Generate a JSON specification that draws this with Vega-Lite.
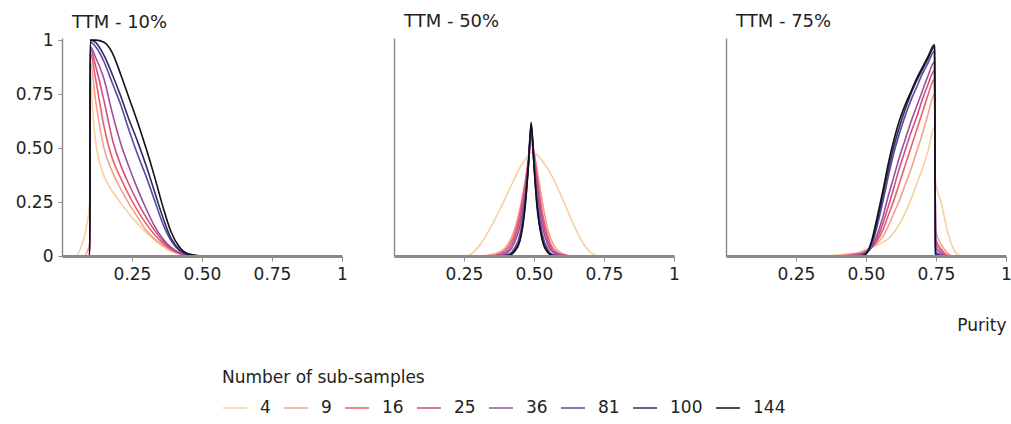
{
"$schema": "https://vega.github.io/schema/vega-lite/v6.json",
"background": "white",
"padding": {"left": 15, "top": 13, "right": 0, "bottom": 0},
"spacing": 45,
"config": {
 "font": "DejaVu Sans",
 "view": {"stroke": null},
 "axis": {"grid": false, "domainColor": "#8c8c8c", "domainWidth": 1.5, "tickColor": "#8c8c8c", "tickSize": 4, "labelFontSize": 17, "labelColor": "#222", "labelFont": "DejaVu Sans", "titleFont": "DejaVu Sans", "titleFontSize": 17, "titleFontWeight": "normal", "titleColor": "#222", "labelPadding": 5, "labelFlush": false},
 "axisX": {"domainWidth": 3, "domainColor": "#8a8a8a", "tickSize": 5},
 "title": {"font": "DejaVu Sans", "fontSize": 18, "fontWeight": "normal", "anchor": "start", "frame": "group", "color": "#222", "offset": 7},
 "legend": {"titleFont": "DejaVu Sans", "labelFont": "DejaVu Sans", "titleFontSize": 17, "titleFontWeight": "normal", "labelFontSize": 17, "titleColor": "#222", "labelColor": "#222", "titleLimit": 600, "symbolType": "stroke", "symbolStrokeWidth": 1.5, "symbolSize": 576, "columnPadding": 10, "titlePadding": 8, "labelOffset": 12}
},
"data": {"values": [
{"p":10,"n":4,"x":0.01,"y":0},{"p":10,"n":4,"x":0.05,"y":0},{"p":10,"n":4,"x":0.07,"y":0.05},{"p":10,"n":4,"x":0.085,"y":0.12},{"p":10,"n":4,"x":0.099,"y":0.25},{"p":10,"n":4,"x":0.101,"y":0.86},{"p":10,"n":4,"x":0.11,"y":0.66},{"p":10,"n":4,"x":0.12,"y":0.53},{"p":10,"n":4,"x":0.135,"y":0.43},{"p":10,"n":4,"x":0.15,"y":0.37},{"p":10,"n":4,"x":0.18,"y":0.3},{"p":10,"n":4,"x":0.21,"y":0.245},{"p":10,"n":4,"x":0.24,"y":0.195},{"p":10,"n":4,"x":0.27,"y":0.15},{"p":10,"n":4,"x":0.3,"y":0.11},{"p":10,"n":4,"x":0.33,"y":0.075},{"p":10,"n":4,"x":0.36,"y":0.045},{"p":10,"n":4,"x":0.39,"y":0.022},{"p":10,"n":4,"x":0.42,"y":0.009},{"p":10,"n":4,"x":0.45,"y":0.002},{"p":10,"n":4,"x":0.5,"y":0},{"p":10,"n":4,"x":1,"y":0},
{"p":10,"n":9,"x":0.01,"y":0},{"p":10,"n":9,"x":0.08,"y":0},{"p":10,"n":9,"x":0.09,"y":0.02},{"p":10,"n":9,"x":0.099,"y":0.06},{"p":10,"n":9,"x":0.101,"y":0.9},{"p":10,"n":9,"x":0.12,"y":0.72},{"p":10,"n":9,"x":0.15,"y":0.5},{"p":10,"n":9,"x":0.18,"y":0.39},{"p":10,"n":9,"x":0.21,"y":0.31},{"p":10,"n":9,"x":0.24,"y":0.24},{"p":10,"n":9,"x":0.27,"y":0.18},{"p":10,"n":9,"x":0.3,"y":0.12},{"p":10,"n":9,"x":0.33,"y":0.08},{"p":10,"n":9,"x":0.36,"y":0.05},{"p":10,"n":9,"x":0.39,"y":0.025},{"p":10,"n":9,"x":0.42,"y":0.01},{"p":10,"n":9,"x":0.45,"y":0.003},{"p":10,"n":9,"x":0.5,"y":0},{"p":10,"n":9,"x":1,"y":0},
{"p":10,"n":16,"x":0.01,"y":0},{"p":10,"n":16,"x":0.099,"y":0},{"p":10,"n":16,"x":0.101,"y":0.94},{"p":10,"n":16,"x":0.12,"y":0.82},{"p":10,"n":16,"x":0.15,"y":0.6},{"p":10,"n":16,"x":0.18,"y":0.45},{"p":10,"n":16,"x":0.21,"y":0.36},{"p":10,"n":16,"x":0.24,"y":0.28},{"p":10,"n":16,"x":0.27,"y":0.21},{"p":10,"n":16,"x":0.3,"y":0.15},{"p":10,"n":16,"x":0.33,"y":0.1},{"p":10,"n":16,"x":0.36,"y":0.06},{"p":10,"n":16,"x":0.39,"y":0.03},{"p":10,"n":16,"x":0.42,"y":0.012},{"p":10,"n":16,"x":0.45,"y":0.004},{"p":10,"n":16,"x":0.5,"y":0},{"p":10,"n":16,"x":1,"y":0},
{"p":10,"n":25,"x":0.01,"y":0},{"p":10,"n":25,"x":0.099,"y":0},{"p":10,"n":25,"x":0.101,"y":0.96},{"p":10,"n":25,"x":0.12,"y":0.88},{"p":10,"n":25,"x":0.15,"y":0.72},{"p":10,"n":25,"x":0.18,"y":0.54},{"p":10,"n":25,"x":0.21,"y":0.42},{"p":10,"n":25,"x":0.24,"y":0.33},{"p":10,"n":25,"x":0.27,"y":0.25},{"p":10,"n":25,"x":0.3,"y":0.18},{"p":10,"n":25,"x":0.33,"y":0.12},{"p":10,"n":25,"x":0.36,"y":0.07},{"p":10,"n":25,"x":0.39,"y":0.035},{"p":10,"n":25,"x":0.42,"y":0.013},{"p":10,"n":25,"x":0.45,"y":0.004},{"p":10,"n":25,"x":0.5,"y":0},{"p":10,"n":25,"x":1,"y":0},
{"p":10,"n":36,"x":0.01,"y":0},{"p":10,"n":36,"x":0.099,"y":0},{"p":10,"n":36,"x":0.101,"y":0.97},{"p":10,"n":36,"x":0.12,"y":0.92},{"p":10,"n":36,"x":0.15,"y":0.82},{"p":10,"n":36,"x":0.18,"y":0.66},{"p":10,"n":36,"x":0.21,"y":0.52},{"p":10,"n":36,"x":0.24,"y":0.41},{"p":10,"n":36,"x":0.27,"y":0.31},{"p":10,"n":36,"x":0.3,"y":0.22},{"p":10,"n":36,"x":0.33,"y":0.14},{"p":10,"n":36,"x":0.36,"y":0.08},{"p":10,"n":36,"x":0.39,"y":0.04},{"p":10,"n":36,"x":0.42,"y":0.015},{"p":10,"n":36,"x":0.45,"y":0.004},{"p":10,"n":36,"x":0.5,"y":0},{"p":10,"n":36,"x":1,"y":0},
{"p":10,"n":81,"x":0.01,"y":0},{"p":10,"n":81,"x":0.099,"y":0},{"p":10,"n":81,"x":0.101,"y":0.99},{"p":10,"n":81,"x":0.12,"y":0.97},{"p":10,"n":81,"x":0.15,"y":0.9},{"p":10,"n":81,"x":0.18,"y":0.8},{"p":10,"n":81,"x":0.21,"y":0.7},{"p":10,"n":81,"x":0.24,"y":0.58},{"p":10,"n":81,"x":0.27,"y":0.47},{"p":10,"n":81,"x":0.3,"y":0.37},{"p":10,"n":81,"x":0.33,"y":0.26},{"p":10,"n":81,"x":0.36,"y":0.15},{"p":10,"n":81,"x":0.39,"y":0.07},{"p":10,"n":81,"x":0.42,"y":0.025},{"p":10,"n":81,"x":0.45,"y":0.006},{"p":10,"n":81,"x":0.5,"y":0},{"p":10,"n":81,"x":1,"y":0},
{"p":10,"n":100,"x":0.01,"y":0},{"p":10,"n":100,"x":0.099,"y":0},{"p":10,"n":100,"x":0.101,"y":1},{"p":10,"n":100,"x":0.12,"y":0.99},{"p":10,"n":100,"x":0.15,"y":0.93},{"p":10,"n":100,"x":0.18,"y":0.84},{"p":10,"n":100,"x":0.21,"y":0.74},{"p":10,"n":100,"x":0.24,"y":0.63},{"p":10,"n":100,"x":0.27,"y":0.53},{"p":10,"n":100,"x":0.3,"y":0.42},{"p":10,"n":100,"x":0.33,"y":0.3},{"p":10,"n":100,"x":0.36,"y":0.18},{"p":10,"n":100,"x":0.39,"y":0.08},{"p":10,"n":100,"x":0.42,"y":0.028},{"p":10,"n":100,"x":0.45,"y":0.007},{"p":10,"n":100,"x":0.5,"y":0},{"p":10,"n":100,"x":1,"y":0},
{"p":10,"n":144,"x":0.01,"y":0},{"p":10,"n":144,"x":0.099,"y":0},{"p":10,"n":144,"x":0.101,"y":1},{"p":10,"n":144,"x":0.12,"y":1},{"p":10,"n":144,"x":0.15,"y":0.99},{"p":10,"n":144,"x":0.18,"y":0.94},{"p":10,"n":144,"x":0.21,"y":0.84},{"p":10,"n":144,"x":0.24,"y":0.73},{"p":10,"n":144,"x":0.27,"y":0.62},{"p":10,"n":144,"x":0.3,"y":0.5},{"p":10,"n":144,"x":0.33,"y":0.37},{"p":10,"n":144,"x":0.36,"y":0.23},{"p":10,"n":144,"x":0.39,"y":0.11},{"p":10,"n":144,"x":0.42,"y":0.04},{"p":10,"n":144,"x":0.45,"y":0.01},{"p":10,"n":144,"x":0.5,"y":0},{"p":10,"n":144,"x":1,"y":0},

{"p":50,"n":4,"x":0.01,"y":0},{"p":50,"n":4,"x":0.26,"y":0},{"p":50,"n":4,"x":0.3,"y":0.04},{"p":50,"n":4,"x":0.34,"y":0.12},{"p":50,"n":4,"x":0.38,"y":0.22},{"p":50,"n":4,"x":0.42,"y":0.33},{"p":50,"n":4,"x":0.45,"y":0.41},{"p":50,"n":4,"x":0.47,"y":0.45},{"p":50,"n":4,"x":0.49,"y":0.48},{"p":50,"n":4,"x":0.51,"y":0.47},{"p":50,"n":4,"x":0.53,"y":0.44},{"p":50,"n":4,"x":0.56,"y":0.38},{"p":50,"n":4,"x":0.6,"y":0.27},{"p":50,"n":4,"x":0.64,"y":0.15},{"p":50,"n":4,"x":0.68,"y":0.05},{"p":50,"n":4,"x":0.71,"y":0.01},{"p":50,"n":4,"x":0.73,"y":0},{"p":50,"n":4,"x":1,"y":0},
{"p":50,"n":9,"x":0.01,"y":0},{"p":50,"n":9,"x":0.3,"y":0},{"p":50,"n":9,"x":0.34,"y":0.005},{"p":50,"n":9,"x":0.38,"y":0.02},{"p":50,"n":9,"x":0.41,"y":0.06},{"p":50,"n":9,"x":0.43,"y":0.12},{"p":50,"n":9,"x":0.45,"y":0.22},{"p":50,"n":9,"x":0.47,"y":0.36},{"p":50,"n":9,"x":0.48,"y":0.44},{"p":50,"n":9,"x":0.49,"y":0.52},{"p":50,"n":9,"x":0.5,"y":0.48},{"p":50,"n":9,"x":0.51,"y":0.41},{"p":50,"n":9,"x":0.53,"y":0.25},{"p":50,"n":9,"x":0.55,"y":0.12},{"p":50,"n":9,"x":0.57,"y":0.05},{"p":50,"n":9,"x":0.6,"y":0.012},{"p":50,"n":9,"x":0.64,"y":0},{"p":50,"n":9,"x":1,"y":0},
{"p":50,"n":16,"x":0.01,"y":0},{"p":50,"n":16,"x":0.34,"y":0},{"p":50,"n":16,"x":0.38,"y":0.012},{"p":50,"n":16,"x":0.41,"y":0.045},{"p":50,"n":16,"x":0.43,"y":0.1},{"p":50,"n":16,"x":0.45,"y":0.2},{"p":50,"n":16,"x":0.47,"y":0.35},{"p":50,"n":16,"x":0.48,"y":0.45},{"p":50,"n":16,"x":0.49,"y":0.55},{"p":50,"n":16,"x":0.5,"y":0.48},{"p":50,"n":16,"x":0.51,"y":0.38},{"p":50,"n":16,"x":0.53,"y":0.2},{"p":50,"n":16,"x":0.55,"y":0.09},{"p":50,"n":16,"x":0.57,"y":0.03},{"p":50,"n":16,"x":0.6,"y":0.006},{"p":50,"n":16,"x":0.64,"y":0},{"p":50,"n":16,"x":1,"y":0},
{"p":50,"n":25,"x":0.01,"y":0},{"p":50,"n":25,"x":0.34,"y":0},{"p":50,"n":25,"x":0.38,"y":0.006},{"p":50,"n":25,"x":0.41,"y":0.03},{"p":50,"n":25,"x":0.43,"y":0.08},{"p":50,"n":25,"x":0.45,"y":0.17},{"p":50,"n":25,"x":0.47,"y":0.32},{"p":50,"n":25,"x":0.48,"y":0.44},{"p":50,"n":25,"x":0.49,"y":0.56},{"p":50,"n":25,"x":0.5,"y":0.46},{"p":50,"n":25,"x":0.51,"y":0.35},{"p":50,"n":25,"x":0.53,"y":0.17},{"p":50,"n":25,"x":0.55,"y":0.07},{"p":50,"n":25,"x":0.57,"y":0.02},{"p":50,"n":25,"x":0.6,"y":0.004},{"p":50,"n":25,"x":0.64,"y":0},{"p":50,"n":25,"x":1,"y":0},
{"p":50,"n":36,"x":0.01,"y":0},{"p":50,"n":36,"x":0.34,"y":0},{"p":50,"n":36,"x":0.38,"y":0.003},{"p":50,"n":36,"x":0.41,"y":0.02},{"p":50,"n":36,"x":0.43,"y":0.06},{"p":50,"n":36,"x":0.45,"y":0.14},{"p":50,"n":36,"x":0.47,"y":0.3},{"p":50,"n":36,"x":0.48,"y":0.43},{"p":50,"n":36,"x":0.49,"y":0.58},{"p":50,"n":36,"x":0.5,"y":0.45},{"p":50,"n":36,"x":0.51,"y":0.32},{"p":50,"n":36,"x":0.53,"y":0.14},{"p":50,"n":36,"x":0.55,"y":0.05},{"p":50,"n":36,"x":0.57,"y":0.015},{"p":50,"n":36,"x":0.6,"y":0.002},{"p":50,"n":36,"x":0.64,"y":0},{"p":50,"n":36,"x":1,"y":0},
{"p":50,"n":81,"x":0.01,"y":0},{"p":50,"n":81,"x":0.38,"y":0},{"p":50,"n":81,"x":0.41,"y":0.008},{"p":50,"n":81,"x":0.43,"y":0.035},{"p":50,"n":81,"x":0.45,"y":0.1},{"p":50,"n":81,"x":0.47,"y":0.28},{"p":50,"n":81,"x":0.48,"y":0.42},{"p":50,"n":81,"x":0.49,"y":0.6},{"p":50,"n":81,"x":0.5,"y":0.43},{"p":50,"n":81,"x":0.51,"y":0.28},{"p":50,"n":81,"x":0.53,"y":0.1},{"p":50,"n":81,"x":0.55,"y":0.03},{"p":50,"n":81,"x":0.57,"y":0.005},{"p":50,"n":81,"x":0.6,"y":0},{"p":50,"n":81,"x":1,"y":0},
{"p":50,"n":100,"x":0.01,"y":0},{"p":50,"n":100,"x":0.38,"y":0},{"p":50,"n":100,"x":0.41,"y":0.005},{"p":50,"n":100,"x":0.43,"y":0.025},{"p":50,"n":100,"x":0.45,"y":0.08},{"p":50,"n":100,"x":0.47,"y":0.26},{"p":50,"n":100,"x":0.48,"y":0.42},{"p":50,"n":100,"x":0.49,"y":0.61},{"p":50,"n":100,"x":0.5,"y":0.42},{"p":50,"n":100,"x":0.51,"y":0.25},{"p":50,"n":100,"x":0.53,"y":0.08},{"p":50,"n":100,"x":0.55,"y":0.02},{"p":50,"n":100,"x":0.57,"y":0.003},{"p":50,"n":100,"x":0.6,"y":0},{"p":50,"n":100,"x":1,"y":0},
{"p":50,"n":144,"x":0.01,"y":0},{"p":50,"n":144,"x":0.38,"y":0},{"p":50,"n":144,"x":0.41,"y":0.003},{"p":50,"n":144,"x":0.43,"y":0.02},{"p":50,"n":144,"x":0.45,"y":0.07},{"p":50,"n":144,"x":0.47,"y":0.25},{"p":50,"n":144,"x":0.48,"y":0.42},{"p":50,"n":144,"x":0.49,"y":0.62},{"p":50,"n":144,"x":0.5,"y":0.42},{"p":50,"n":144,"x":0.51,"y":0.24},{"p":50,"n":144,"x":0.53,"y":0.07},{"p":50,"n":144,"x":0.55,"y":0.015},{"p":50,"n":144,"x":0.57,"y":0},{"p":50,"n":144,"x":1,"y":0},

{"p":75,"n":4,"x":0.01,"y":0},{"p":75,"n":4,"x":0.35,"y":0},{"p":75,"n":4,"x":0.4,"y":0.005},{"p":75,"n":4,"x":0.45,"y":0.012},{"p":75,"n":4,"x":0.48,"y":0.02},{"p":75,"n":4,"x":0.5,"y":0.03},{"p":75,"n":4,"x":0.52,"y":0.04},{"p":75,"n":4,"x":0.54,"y":0.05},{"p":75,"n":4,"x":0.56,"y":0.065},{"p":75,"n":4,"x":0.58,"y":0.08},{"p":75,"n":4,"x":0.6,"y":0.11},{"p":75,"n":4,"x":0.62,"y":0.15},{"p":75,"n":4,"x":0.64,"y":0.2},{"p":75,"n":4,"x":0.66,"y":0.26},{"p":75,"n":4,"x":0.68,"y":0.33},{"p":75,"n":4,"x":0.7,"y":0.4},{"p":75,"n":4,"x":0.72,"y":0.48},{"p":75,"n":4,"x":0.745,"y":0.6},{"p":75,"n":4,"x":0.748,"y":0.35},{"p":75,"n":4,"x":0.77,"y":0.24},{"p":75,"n":4,"x":0.79,"y":0.12},{"p":75,"n":4,"x":0.81,"y":0.04},{"p":75,"n":4,"x":0.83,"y":0.005},{"p":75,"n":4,"x":0.85,"y":0},{"p":75,"n":4,"x":1,"y":0},
{"p":75,"n":9,"x":0.01,"y":0},{"p":75,"n":9,"x":0.38,"y":0},{"p":75,"n":9,"x":0.42,"y":0.004},{"p":75,"n":9,"x":0.45,"y":0.008},{"p":75,"n":9,"x":0.48,"y":0.015},{"p":75,"n":9,"x":0.5,"y":0.025},{"p":75,"n":9,"x":0.52,"y":0.04},{"p":75,"n":9,"x":0.54,"y":0.06},{"p":75,"n":9,"x":0.56,"y":0.09},{"p":75,"n":9,"x":0.58,"y":0.14},{"p":75,"n":9,"x":0.6,"y":0.2},{"p":75,"n":9,"x":0.62,"y":0.26},{"p":75,"n":9,"x":0.64,"y":0.33},{"p":75,"n":9,"x":0.66,"y":0.4},{"p":75,"n":9,"x":0.68,"y":0.48},{"p":75,"n":9,"x":0.7,"y":0.56},{"p":75,"n":9,"x":0.72,"y":0.65},{"p":75,"n":9,"x":0.745,"y":0.75},{"p":75,"n":9,"x":0.748,"y":0.12},{"p":75,"n":9,"x":0.77,"y":0.05},{"p":75,"n":9,"x":0.79,"y":0.015},{"p":75,"n":9,"x":0.81,"y":0},{"p":75,"n":9,"x":1,"y":0},
{"p":75,"n":16,"x":0.01,"y":0},{"p":75,"n":16,"x":0.42,"y":0},{"p":75,"n":16,"x":0.45,"y":0.005},{"p":75,"n":16,"x":0.48,"y":0.012},{"p":75,"n":16,"x":0.5,"y":0.022},{"p":75,"n":16,"x":0.52,"y":0.04},{"p":75,"n":16,"x":0.54,"y":0.07},{"p":75,"n":16,"x":0.56,"y":0.12},{"p":75,"n":16,"x":0.58,"y":0.19},{"p":75,"n":16,"x":0.6,"y":0.26},{"p":75,"n":16,"x":0.62,"y":0.34},{"p":75,"n":16,"x":0.64,"y":0.42},{"p":75,"n":16,"x":0.66,"y":0.5},{"p":75,"n":16,"x":0.68,"y":0.58},{"p":75,"n":16,"x":0.7,"y":0.66},{"p":75,"n":16,"x":0.72,"y":0.74},{"p":75,"n":16,"x":0.745,"y":0.82},{"p":75,"n":16,"x":0.748,"y":0.08},{"p":75,"n":16,"x":0.77,"y":0.03},{"p":75,"n":16,"x":0.79,"y":0.005},{"p":75,"n":16,"x":0.81,"y":0},{"p":75,"n":16,"x":1,"y":0},
{"p":75,"n":25,"x":0.01,"y":0},{"p":75,"n":25,"x":0.42,"y":0},{"p":75,"n":25,"x":0.45,"y":0.004},{"p":75,"n":25,"x":0.48,"y":0.01},{"p":75,"n":25,"x":0.5,"y":0.02},{"p":75,"n":25,"x":0.52,"y":0.04},{"p":75,"n":25,"x":0.54,"y":0.08},{"p":75,"n":25,"x":0.56,"y":0.15},{"p":75,"n":25,"x":0.58,"y":0.23},{"p":75,"n":25,"x":0.6,"y":0.32},{"p":75,"n":25,"x":0.62,"y":0.41},{"p":75,"n":25,"x":0.64,"y":0.49},{"p":75,"n":25,"x":0.66,"y":0.57},{"p":75,"n":25,"x":0.68,"y":0.64},{"p":75,"n":25,"x":0.7,"y":0.72},{"p":75,"n":25,"x":0.72,"y":0.79},{"p":75,"n":25,"x":0.745,"y":0.86},{"p":75,"n":25,"x":0.748,"y":0.06},{"p":75,"n":25,"x":0.77,"y":0.02},{"p":75,"n":25,"x":0.79,"y":0},{"p":75,"n":25,"x":1,"y":0},
{"p":75,"n":36,"x":0.01,"y":0},{"p":75,"n":36,"x":0.42,"y":0},{"p":75,"n":36,"x":0.45,"y":0.002},{"p":75,"n":36,"x":0.48,"y":0.006},{"p":75,"n":36,"x":0.5,"y":0.015},{"p":75,"n":36,"x":0.52,"y":0.04},{"p":75,"n":36,"x":0.54,"y":0.1},{"p":75,"n":36,"x":0.56,"y":0.18},{"p":75,"n":36,"x":0.58,"y":0.28},{"p":75,"n":36,"x":0.6,"y":0.37},{"p":75,"n":36,"x":0.62,"y":0.46},{"p":75,"n":36,"x":0.64,"y":0.54},{"p":75,"n":36,"x":0.66,"y":0.62},{"p":75,"n":36,"x":0.68,"y":0.69},{"p":75,"n":36,"x":0.7,"y":0.76},{"p":75,"n":36,"x":0.72,"y":0.83},{"p":75,"n":36,"x":0.745,"y":0.9},{"p":75,"n":36,"x":0.748,"y":0.04},{"p":75,"n":36,"x":0.77,"y":0.01},{"p":75,"n":36,"x":0.79,"y":0},{"p":75,"n":36,"x":1,"y":0},
{"p":75,"n":81,"x":0.01,"y":0},{"p":75,"n":81,"x":0.46,"y":0},{"p":75,"n":81,"x":0.48,"y":0.002},{"p":75,"n":81,"x":0.5,"y":0.012},{"p":75,"n":81,"x":0.52,"y":0.05},{"p":75,"n":81,"x":0.54,"y":0.14},{"p":75,"n":81,"x":0.56,"y":0.25},{"p":75,"n":81,"x":0.58,"y":0.37},{"p":75,"n":81,"x":0.6,"y":0.48},{"p":75,"n":81,"x":0.62,"y":0.57},{"p":75,"n":81,"x":0.64,"y":0.65},{"p":75,"n":81,"x":0.66,"y":0.72},{"p":75,"n":81,"x":0.68,"y":0.78},{"p":75,"n":81,"x":0.7,"y":0.84},{"p":75,"n":81,"x":0.72,"y":0.89},{"p":75,"n":81,"x":0.745,"y":0.95},{"p":75,"n":81,"x":0.748,"y":0.02},{"p":75,"n":81,"x":0.77,"y":0.003},{"p":75,"n":81,"x":0.79,"y":0},{"p":75,"n":81,"x":1,"y":0},
{"p":75,"n":100,"x":0.01,"y":0},{"p":75,"n":100,"x":0.48,"y":0},{"p":75,"n":100,"x":0.5,"y":0.01},{"p":75,"n":100,"x":0.52,"y":0.06},{"p":75,"n":100,"x":0.54,"y":0.16},{"p":75,"n":100,"x":0.56,"y":0.28},{"p":75,"n":100,"x":0.58,"y":0.4},{"p":75,"n":100,"x":0.6,"y":0.51},{"p":75,"n":100,"x":0.62,"y":0.6},{"p":75,"n":100,"x":0.64,"y":0.68},{"p":75,"n":100,"x":0.66,"y":0.75},{"p":75,"n":100,"x":0.68,"y":0.81},{"p":75,"n":100,"x":0.7,"y":0.86},{"p":75,"n":100,"x":0.72,"y":0.91},{"p":75,"n":100,"x":0.745,"y":0.97},{"p":75,"n":100,"x":0.748,"y":0.01},{"p":75,"n":100,"x":0.77,"y":0},{"p":75,"n":100,"x":1,"y":0},
{"p":75,"n":144,"x":0.01,"y":0},{"p":75,"n":144,"x":0.48,"y":0},{"p":75,"n":144,"x":0.5,"y":0.01},{"p":75,"n":144,"x":0.52,"y":0.07},{"p":75,"n":144,"x":0.54,"y":0.18},{"p":75,"n":144,"x":0.56,"y":0.3},{"p":75,"n":144,"x":0.58,"y":0.43},{"p":75,"n":144,"x":0.6,"y":0.54},{"p":75,"n":144,"x":0.62,"y":0.63},{"p":75,"n":144,"x":0.64,"y":0.7},{"p":75,"n":144,"x":0.66,"y":0.76},{"p":75,"n":144,"x":0.68,"y":0.82},{"p":75,"n":144,"x":0.7,"y":0.87},{"p":75,"n":144,"x":0.72,"y":0.92},{"p":75,"n":144,"x":0.745,"y":0.98},{"p":75,"n":144,"x":0.748,"y":0},{"p":75,"n":144,"x":1,"y":0}
]},
"hconcat": [
 {"width": 280, "height": 218,
  "title": {"text": "TTM - 10%", "dx": 10, "dy": 8},
  "transform": [{"filter": "datum.p == 10"}],
  "mark": {"type": "line", "interpolate": "monotone", "strokeWidth": 1.6},
  "encoding": {
   "x": {"field": "x", "type": "quantitative", "scale": {"domain": [0, 1], "nice": false}, "axis": {"title": null, "zindex": 1, "values": [0.25, 0.5, 0.75, 1], "labelExpr": "datum.value == 1 ? '1' : format(datum.value, '.2f')"}},
   "y": {"field": "y", "type": "quantitative", "scale": {"domain": [0, 1.01], "nice": false}, "axis": {"title": null, "zindex": 1, "values": [0, 0.25, 0.5, 0.75, 1], "labelExpr": "datum.value == 0 ? '0' : datum.value == 1 ? '1' : format(datum.value, '.2f')"}},
   "color": {"field": "n", "type": "ordinal", "title": "Number of sub-samples", "scale": {"domain": [4, 9, 16, 25, 36, 81, 100, 144], "range": ["#f8cf9f", "#f4a08f", "#ea5f6a", "#cf4f83", "#9c4f9f", "#5d4aa0", "#2f2c63", "#121016"]}, "legend": {"orient": "none", "direction": "horizontal", "legendX": 160, "legendY": 332}}
  }},
 {"width": 280, "height": 218,
  "title": {"text": "TTM - 50%", "dx": 10},
  "transform": [{"filter": "datum.p == 50"}],
  "mark": {"type": "line", "interpolate": "monotone", "strokeWidth": 1.6},
  "encoding": {
   "x": {"field": "x", "type": "quantitative", "scale": {"domain": [0, 1], "nice": false}, "axis": {"title": null, "zindex": 1, "values": [0.25, 0.5, 0.75, 1], "labelExpr": "datum.value == 1 ? '1' : format(datum.value, '.2f')"}},
   "y": {"field": "y", "type": "quantitative", "scale": {"domain": [0, 1.01], "nice": false}, "axis": {"title": null, "zindex": 1, "labels": false, "ticks": false}},
   "color": {"field": "n", "type": "ordinal", "title": "Number of sub-samples", "scale": {"domain": [4, 9, 16, 25, 36, 81, 100, 144], "range": ["#f8cf9f", "#f4a08f", "#ea5f6a", "#cf4f83", "#9c4f9f", "#5d4aa0", "#2f2c63", "#121016"]}, "legend": {"orient": "none", "direction": "horizontal", "legendX": 160, "legendY": 332}}
  }},
 {"width": 280, "height": 218,
  "title": {"text": "TTM - 75%", "dx": 10},
  "transform": [{"filter": "datum.p == 75"}],
  "mark": {"type": "line", "interpolate": "monotone", "strokeWidth": 1.6},
  "encoding": {
   "x": {"field": "x", "type": "quantitative", "scale": {"domain": [0, 1], "nice": false}, "axis": {"title": "Purity", "zindex": 1, "titleAnchor": "end", "titlePadding": 35, "values": [0.25, 0.5, 0.75, 1], "labelExpr": "datum.value == 1 ? '1' : format(datum.value, '.2f')"}},
   "y": {"field": "y", "type": "quantitative", "scale": {"domain": [0, 1.01], "nice": false}, "axis": {"title": null, "zindex": 1, "labels": false, "ticks": false}},
   "color": {"field": "n", "type": "ordinal", "title": "Number of sub-samples", "scale": {"domain": [4, 9, 16, 25, 36, 81, 100, 144], "range": ["#f8cf9f", "#f4a08f", "#ea5f6a", "#cf4f83", "#9c4f9f", "#5d4aa0", "#2f2c63", "#121016"]}, "legend": {"orient": "none", "direction": "horizontal", "legendX": 160, "legendY": 332}}
  }}
],
"resolve": {"scale": {"color": "shared"}, "legend": {"color": "shared"}}
}
